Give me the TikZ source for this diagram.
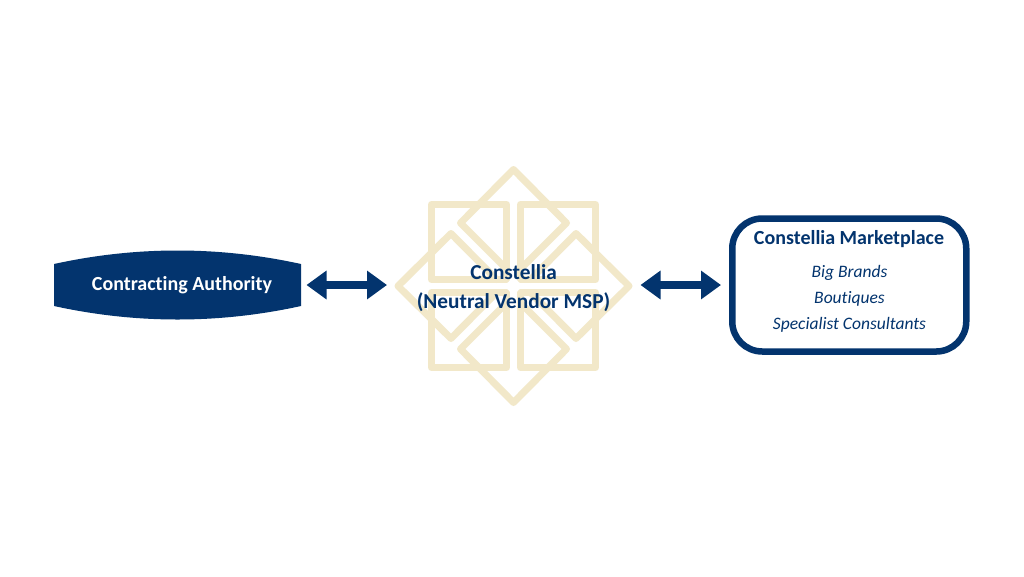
\documentclass[tikz,border=0pt]{standalone}
\usepackage{fontspec}
\setmainfont{Carlito}[RawFeature={-liga;-clig}]
\definecolor{navy}{HTML}{03346E}
\definecolor{sand}{HTML}{F2E8C9}
\usetikzlibrary{arrows.meta}
\tikzset{
  x=1pt,y=-1pt,
  starline/.style={draw=sand,line width=7pt,line join=round,line cap=round},
  twoway/.style={draw=navy,line width=8pt,{Triangle[length=20pt,width=27.5pt]}-{Triangle[length=20pt,width=27.5pt]}},
  titletext/.style={text=navy,font=\bfseries\fontsize{20}{29}\selectfont,inner sep=0pt,align=center},
  centertext/.style={text=navy,font=\bfseries\fontsize{21.3}{29}\selectfont,inner sep=0pt,align=center},
  itemtext/.style={text=navy,font=\itshape\fontsize{17.5}{18}\selectfont,inner sep=0pt},
  anchorbox/.style={inner sep=0pt,outer sep=0pt}
}
\begin{document}
\begin{tikzpicture}
\useasboundingbox (0,0) rectangle (1024,576);
\fill[white] (0,0) rectangle (1024,576);
% star: four squares
\draw[starline] (431.5,204.5) rectangle (506.5,279.5);
\draw[starline] (520.5,204.5) rectangle (595.5,279.5);
\draw[starline] (431.5,292.5) rectangle (506.5,367.5);
\draw[starline] (520.5,292.5) rectangle (595.5,367.5);
% star: four diamonds, open towards the centre
\draw[starline] (506.5,269) -- (460.5,223) -- (513.5,169.5) -- (566.5,223) -- (520.5,269);
\draw[starline] (506.5,303) -- (460.5,349) -- (513.5,402.5) -- (566.5,349) -- (520.5,303);
\draw[starline] (496.5,279.5) -- (451,233.5) -- (398,286) -- (451,338.5) -- (496.5,292.5);
\draw[starline] (530.5,279.5) -- (576,233.5) -- (629,286) -- (576,338.5) -- (530.5,292.5);
\fill[white] (513.5,286) circle (6.5);
% contracting authority shape
\fill[navy] (54,264) .. controls (136,246) and (219,246) .. (301,264) -- (301,306) .. controls (219,324) and (136,324) .. (54,306) -- cycle;
\node[anchorbox,minimum width=247pt,minimum height=42pt] (auth) at (177.5,285) {};
\node[titletext,text=white] (authtext) at (182,285.5) {Contracting Authority};
% centre
\node[anchorbox,minimum width=240pt,minimum height=240pt] (star) at (513.5,285) {};
\node[centertext] (startitle) at (513.5,272.5) {Constellia};
\node[centertext] (starsub) at (513.5,302) {(Neutral Vendor MSP)};
% marketplace
\node[anchorbox,draw=navy,line width=6.5pt,rounded corners=30pt,minimum width=234pt,minimum height=133pt] (market) at (849.25,285) {};
\node[titletext] (markettitle) at (849,239.5) {Constellia Marketplace};
\node[itemtext] (big) at (849.5,272.5) {Big Brands};
\node[itemtext] (bout) at (849.5,298.5) {Boutiques};
\node[itemtext] (spec) at (849.5,325) {Specialist Consultants};
% connectors
\draw[twoway,shorten <=5.5pt,shorten >=6.5pt] (auth.east) -- (star.west);
\draw[twoway,shorten <=7pt,shorten >=11.25pt] (star.east) -- (market.west);
\end{tikzpicture}
\end{document}
